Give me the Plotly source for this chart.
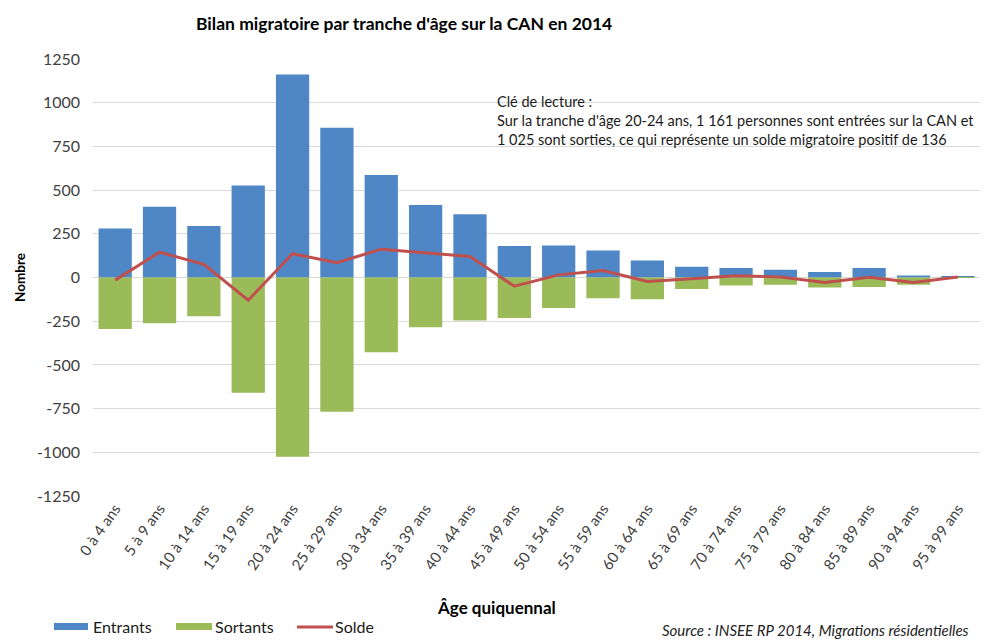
import plotly.graph_objects as go

categories = ["0 à 4 ans", "5 à 9 ans", "10 à 14 ans", "15 à 19 ans", "20 à 24 ans",
              "25 à 29 ans", "30 à 34 ans", "35 à 39 ans", "40 à 44 ans", "45 à 49 ans",
              "50 à 54 ans", "55 à 59 ans", "60 à 64 ans", "65 à 69 ans", "70 à 74 ans",
              "75 à 79 ans", "80 à 84 ans", "85 à 89 ans", "90 à 94 ans", "95 à 99 ans"]
entrants = [280, 405, 295, 527, 1161, 857, 587, 415, 362, 180, 183, 155, 97, 62, 55, 45, 32, 55, 12, 4]
sortants = [-295, -262, -222, -660, -1025, -768, -427, -284, -246, -232, -175, -118, -124, -66, -46, -42, -57, -55, -42, -2]
solde = [-15, 145, 75, -130, 136, 85, 162, 140, 120, -50, 15, 40, -23, -7, 10, 3, -28, 2, -28, 3]
y_ticks = [-1250, -1000, -750, -500, -250, 0, 250, 500, 750, 1000, 1250]

BLUE = "#4F86C6"
GREEN = "#9BBB59"
RED = "#C0504D"
FONT = "Lato"

W, H = 985, 640
L, R, T, B = 93, 5, 59, 144
pw, ph = W - L - R, H - T - B

def px(x):
    return (x - L) / pw

def py(y):
    return (H - B - y) / ph

fig = go.Figure()
fig.add_trace(go.Bar(x=categories, y=entrants, name="Entrants", marker=dict(color=BLUE, line=dict(width=0))))
fig.add_trace(go.Bar(x=categories, y=sortants, name="Sortants", marker=dict(color=GREEN, line=dict(width=0))))
fig.add_trace(go.Scatter(x=categories, y=solde, name="Solde", mode="lines",
                         line=dict(color=RED, width=3)))

annotations = [
    dict(text="<b>Bilan migratoire par tranche d'âge sur la CAN en 2014</b>", x=px(404), y=py(23),
         xref="paper", yref="paper", xanchor="center", yanchor="middle", showarrow=False,
         font=dict(family=FONT, size=17.5, color="#000000")),
    dict(text="<b>Nombre</b>", x=px(20), y=py(278), xref="paper", yref="paper", textangle=-90,
         xanchor="center", yanchor="middle", showarrow=False,
         font=dict(family=FONT, size=13.5, color="#000000")),
    dict(text="<b>Âge quiquennal</b>", x=px(496), y=py(607), xref="paper", yref="paper",
         xanchor="center", yanchor="middle", showarrow=False,
         font=dict(family=FONT, size=17, color="#000000")),
    dict(text="Clé de lecture :<br>Sur la tranche d'âge 20-24 ans, 1 161 personnes sont entrées sur la CAN et<br>1 025 sont sorties, ce qui représente un solde migratoire positif de 136",
         x=px(495), y=py(91), xref="paper", yref="paper", xanchor="left", yanchor="top",
         align="left", showarrow=False, font=dict(family=FONT, size=14.5, color="#1a1a1a")),
    dict(text="<i>Source : INSEE RP 2014, Migrations résidentielles</i>", x=px(660), y=py(630),
         xref="paper", yref="paper", xanchor="left", yanchor="middle", showarrow=False,
         font=dict(family=FONT, size=15, color="#222222")),
    dict(text="Entrants", x=px(91), y=py(626), xref="paper", yref="paper", xanchor="left",
         yanchor="middle", showarrow=False, font=dict(family=FONT, size=16, color="#1a1a1a")),
    dict(text="Sortants", x=px(213), y=py(626), xref="paper", yref="paper", xanchor="left",
         yanchor="middle", showarrow=False, font=dict(family=FONT, size=16, color="#1a1a1a")),
    dict(text="Solde", x=px(333), y=py(626), xref="paper", yref="paper", xanchor="left",
         yanchor="middle", showarrow=False, font=dict(family=FONT, size=16, color="#1a1a1a")),
]

shapes = [
    dict(type="rect", xref="paper", yref="paper", x0=px(54), x1=px(88), y0=py(623), y1=py(630),
         fillcolor=BLUE, line=dict(width=0)),
    dict(type="rect", xref="paper", yref="paper", x0=px(176), x1=px(212), y0=py(623), y1=py(630),
         fillcolor=GREEN, line=dict(width=0)),
    dict(type="line", xref="paper", yref="paper", x0=px(297), x1=px(333), y0=py(627), y1=py(627),
         line=dict(color=RED, width=3)),
]

fig.update_layout(
    width=W, height=H,
    margin=dict(l=L, r=R, t=T, b=B),
    paper_bgcolor="white", plot_bgcolor="white",
    barmode="relative", bargap=0.25,
    showlegend=False,
    annotations=annotations, shapes=shapes,
    font=dict(family=FONT, color="#404040"),
)
fig.update_xaxes(tickangle=-55, tickfont=dict(family=FONT, size=15, color="#404040"),
                 showgrid=False, showline=False, ticks="")
fig.update_yaxes(range=[-1250, 1250], tickvals=y_ticks, ticktext=[str(v) for v in y_ticks],
                 tickfont=dict(family=FONT, size=16, color="#404040"),
                 showgrid=True, gridcolor="#D9D9D9", gridwidth=1,
                 zeroline=True, zerolinecolor="#D9D9D9", zerolinewidth=1,
                 ticklabelstandoff=12)

fig.write_html("out.html", config={"displayModeBar": False},
               post_script="document.body.style.margin='0px';document.body.style.overflow='hidden';")
